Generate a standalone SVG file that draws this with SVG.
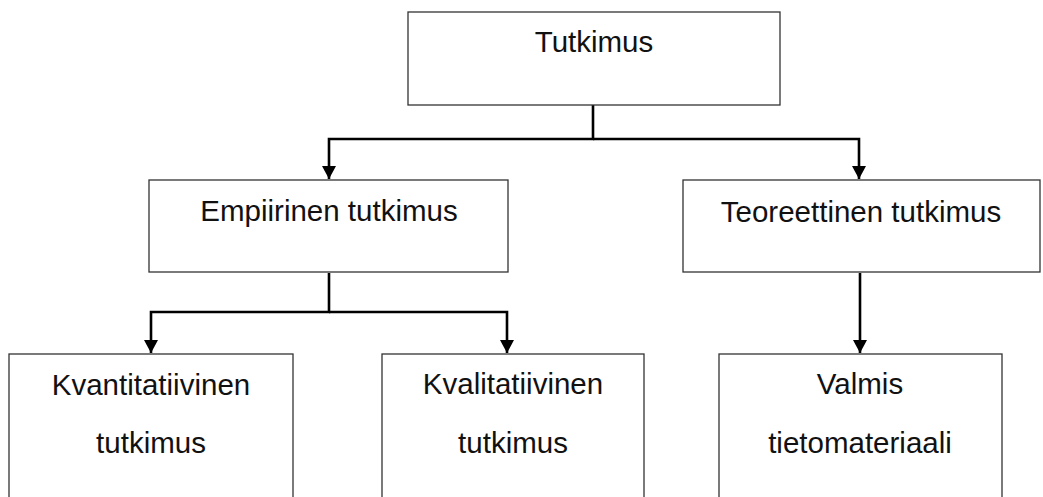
<svg xmlns="http://www.w3.org/2000/svg" width="1043" height="497" viewBox="0 0 1043 497">
<defs>
<style>
.box{fill:#fff;stroke:#333;stroke-width:1.3}
.lbl{font-family:"Liberation Sans",Arial,sans-serif;font-size:29.5px;fill:#111;text-anchor:middle}
.con{fill:none;stroke:#000;stroke-width:2.6}
</style>
<marker id="ah" markerUnits="userSpaceOnUse" markerWidth="16" markerHeight="14" refX="13" refY="7" orient="auto">
<path d="M0,0 L13,7 L0,14 Z" fill="#000"/>
</marker>
</defs>
<rect width="1043" height="497" fill="#fff"/>
<g id="connectors">
<path class="con" d="M593,103 V139 H329 V179" marker-end="url(#ah)"/>
<path class="con" d="M593,139 H859 V179" marker-end="url(#ah)"/>
<path class="con" d="M329,273 V312 H151 V353" marker-end="url(#ah)"/>
<path class="con" d="M329,312 H507 V353" marker-end="url(#ah)"/>
<path class="con" d="M860,273 V353" marker-end="url(#ah)"/>
</g>
<g id="tutkimus">
<rect class="box" x="408" y="12" width="372" height="93"/>
<text class="lbl" x="594" y="52">Tutkimus</text>
</g>
<g id="empiirinen">
<rect class="box" x="149" y="180" width="359" height="92"/>
<text class="lbl" x="329" y="221">Empiirinen tutkimus</text>
</g>
<g id="teoreettinen">
<rect class="box" x="683" y="180" width="357" height="92"/>
<text class="lbl" x="861" y="222">Teoreettinen tutkimus</text>
</g>
<g id="kvantitatiivinen">
<rect class="box" x="9" y="354" width="284" height="160"/>
<text class="lbl" x="151" y="395">Kvantitatiivinen</text>
<text class="lbl" x="151" y="453">tutkimus</text>
</g>
<g id="kvalitatiivinen">
<rect class="box" x="382" y="354" width="262" height="160"/>
<text class="lbl" x="513" y="394">Kvalitatiivinen</text>
<text class="lbl" x="513" y="453">tutkimus</text>
</g>
<g id="valmis">
<rect class="box" x="719" y="354" width="283" height="160"/>
<text class="lbl" x="860" y="394">Valmis</text>
<text class="lbl" x="860" y="453">tietomateriaali</text>
</g>
</svg>
